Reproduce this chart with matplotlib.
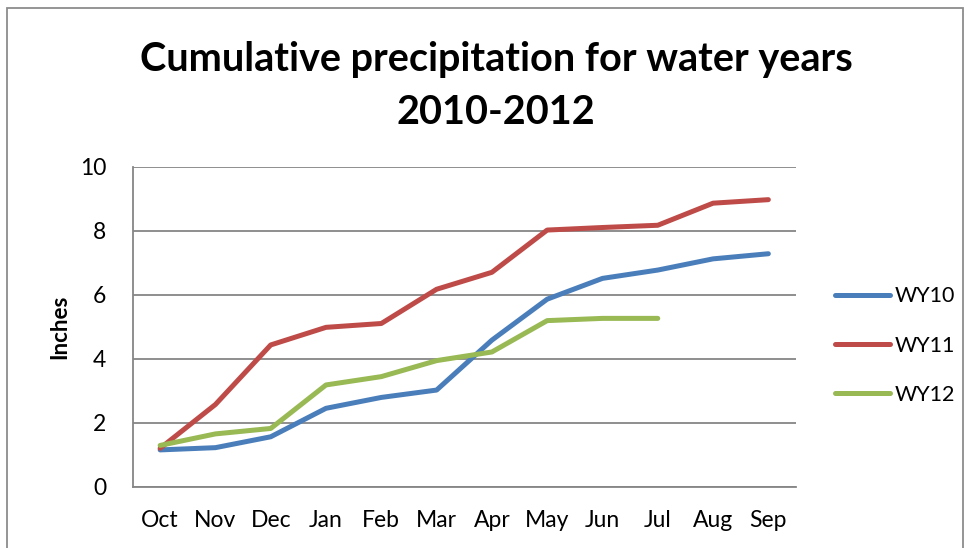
import matplotlib
matplotlib.use("Agg")
import matplotlib.pyplot as plt
from matplotlib.patches import Rectangle
from matplotlib.lines import Line2D

months = ["Oct", "Nov", "Dec", "Jan", "Feb", "Mar", "Apr", "May", "Jun", "Jul", "Aug", "Sep"]
wy10 = [1.15, 1.22, 1.56, 2.45, 2.79, 3.02, 4.58, 5.86, 6.51, 6.77, 7.12, 7.28]
wy11 = [1.20, 2.57, 4.43, 4.98, 5.10, 6.17, 6.70, 8.02, 8.10, 8.17, 8.86, 8.97]
wy12 = [1.29, 1.65, 1.82, 3.18, 3.44, 3.94, 4.21, 5.19, 5.26, 5.26]
series_names = ["WY10", "WY11", "WY12"]
colors = ["#4A7EBB", "#BE4B48", "#98B954"]
yticks = [0, 2, 4, 6, 8, 10]

plt.rcParams["font.family"] = ["Lato", "DejaVu Sans"]

W, H = 971, 548
fig = plt.figure(figsize=(W / 100, H / 100), dpi=100)

# chart frame
fig.patches.append(Rectangle((7 / W, -0.05), (963 - 7) / W, 1.05 - 8 / H,
                             transform=fig.transFigure, fill=False,
                             edgecolor="#8C8C8C", linewidth=1.3))

left, right, top, bottom = 132.5, 796, 166.7, 486.7
ax = fig.add_axes([left / W, 1 - bottom / H, (right - left) / W, (bottom - top) / H])

x = list(range(len(months)))
for vals, name, c in zip([wy10, wy11, wy12], series_names, colors):
    ax.plot(x[:len(vals)], vals, color=c, linewidth=3.6, solid_capstyle="round",
            solid_joinstyle="round", label=name, zorder=3)

ax.set_xlim(-0.5, len(months) - 0.5)
ax.set_ylim(0, 10)
ax.set_yticks(yticks)
ax.set_xticks(x)
ax.set_xticklabels(months)
ax.yaxis.grid(True, color="#868686", linewidth=1.3)
ax.set_axisbelow(True)
for s in ["top", "right"]:
    ax.spines[s].set_visible(False)
for s in ["left", "bottom"]:
    ax.spines[s].set_color("#868686")
    ax.spines[s].set_linewidth(1.3)
ax.tick_params(axis="both", length=0, labelsize=16.5)
ax.tick_params(axis="y", pad=19)
ax.tick_params(axis="x", pad=17)

ax.set_ylabel("Inches", fontsize=16, fontweight="bold", labelpad=7)

fig.text(496 / W, 1 - 59 / H, "Cumulative precipitation for water years", ha="center",
         va="center", fontsize=28.5, fontweight="bold")
fig.text(496 / W, 1 - 112 / H, "2010-2012", ha="center", va="center",
         fontsize=28.5, fontweight="bold")

handles = [Line2D([], [], color=c, linewidth=3.6, solid_capstyle="round") for c in colors]
fig.legend(handles, series_names, loc="center left",
           bbox_to_anchor=(826 / W, 1 - 345.5 / H), frameon=False, fontsize=15.5,
           handlelength=2.55, handletextpad=0.25, labelspacing=1.35, borderaxespad=0)

fig.savefig("out.png", dpi=100)
